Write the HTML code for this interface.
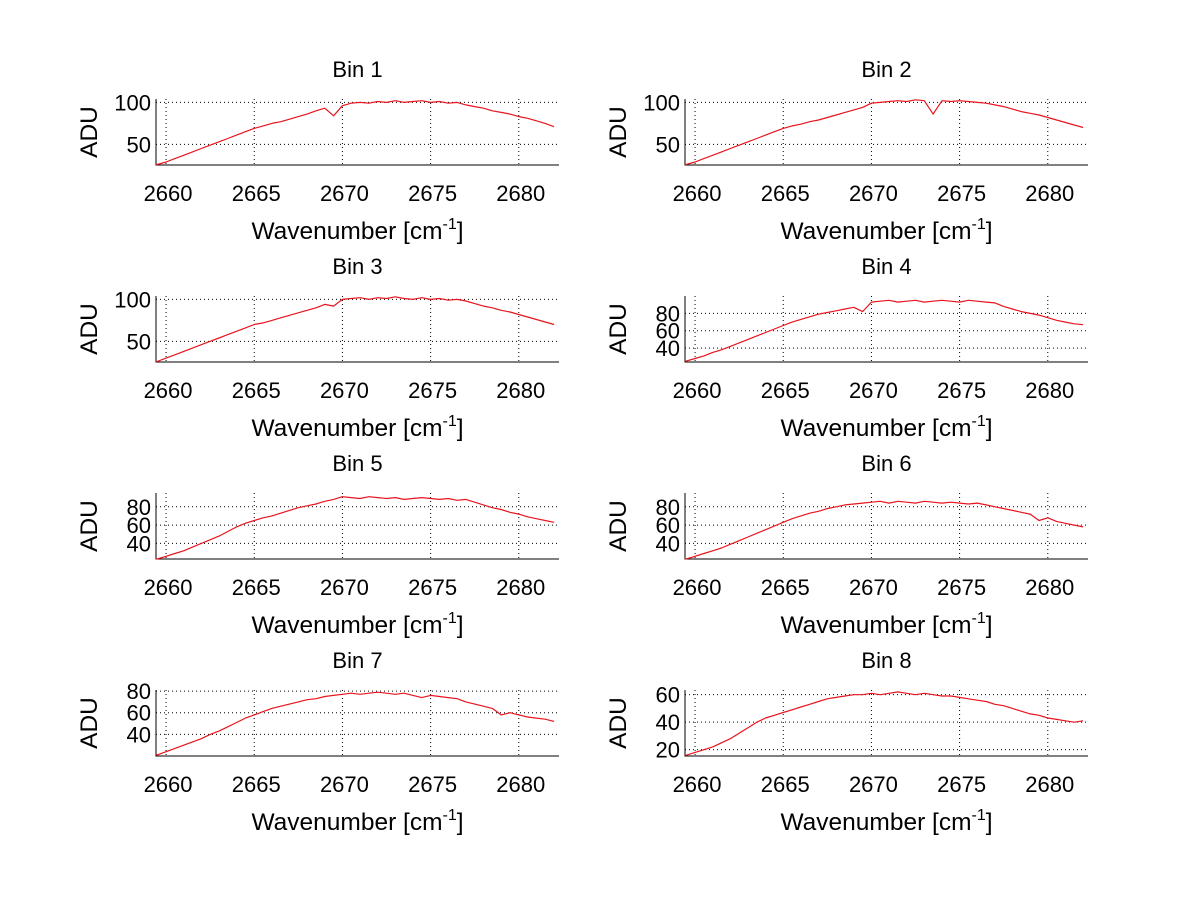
<!DOCTYPE html>
<html><head><meta charset="utf-8"><style>
html,body{margin:0;padding:0;background:#fff;}
svg{display:block;font-family:"Liberation Sans",sans-serif;}
</style></head><body>
<svg id="fig" width="1200" height="901" viewBox="0 0 1200 901" xmlns="http://www.w3.org/2000/svg">
<rect width="1200" height="901" fill="#fff"/>
</svg>
<script>
const xStart = 2659.5, xStep = 0.5;
const xTicks = [2660, 2665, 2670, 2675, 2680];
const xRange = [2659.43, 2682.28];
const binNames = ["Bin 1","Bin 2","Bin 3","Bin 4","Bin 5","Bin 6","Bin 7","Bin 8"];
const yRanges = [[25.4,104],[25.4,104],[25.4,104],[24,100],[23,95],[23,95],[20,81],[15.4,63.4]];
const yTicks = [[50,100],[50,100],[50,100],[40,60,80],[40,60,80],[40,60,80],[40,60,80],[20,40,60]];
const bin1 = [26,29,33,37,41,45,49,53,57,61,65,69,72,75,77,80,83,86,90,93,84,96,99,100,99,101,100,102,100,101,102,100,101,99,100,97,95,93,90,88,86,83,81,78,75,71];
const bin2 = [26,29,33,37,41,45,49,53,57,61,65,69,72,74,77,79,82,85,88,91,94,99,100,101,102,101,103,102,86,102,101,102,101,100,99,97,95,92,89,87,85,82,79,76,73,70];
const bin3 = [26,30,34,38,42,46,50,54,58,62,66,70,72,75,78,81,84,87,90,94,92,100,101,102,100,102,101,103,101,100,102,100,101,99,100,98,95,92,90,87,85,82,79,76,73,70];
const bin4 = [25,28,31,35,38,42,46,50,54,58,62,66,70,73,76,79,81,83,85,87,82,93,94,95,93,94,95,93,94,95,94,93,95,94,93,92,88,85,82,80,78,75,72,70,68,67];
const bin5 = [23,26,29,32,36,40,44,48,53,58,62,65,68,70,73,76,79,81,83,86,88,91,90,89,91,90,89,90,88,89,90,89,88,89,87,88,85,82,79,77,74,72,69,67,65,63];
const bin6 = [23,26,29,32,35,39,43,47,51,55,59,63,67,70,73,75,78,80,82,83,84,85,86,84,86,85,84,86,85,84,85,84,83,84,82,80,78,76,74,72,65,68,64,62,60,58];
const bin7 = [21,24,27,30,33,36,40,43,47,51,55,58,61,64,66,68,70,72,73,75,76,77,78,77,78,79,78,77,78,76,74,76,75,74,73,70,68,66,64,58,60,58,56,55,54,52];
const bin8 = [16,18,20,22,25,28,32,36,40,43,45,47,49,51,53,55,57,58,59,60,60,61,60,61,62,61,60,61,60,59,59,58,57,56,55,53,52,50,48,46,45,43,42,41,40,41];
const series = [bin1,bin2,bin3,bin4,bin5,bin6,bin7,bin8];

const NS = "http://www.w3.org/2000/svg";
const svg = document.getElementById("fig");
const colX = [156, 685], rowY = [99, 296, 493, 690], W = 403, H = 66;
function mk(tag, attrs, parent){const e=document.createElementNS(NS,tag);for(const k in attrs)e.setAttribute(k,attrs[k]);(parent||svg).appendChild(e);return e;}

for (let b = 0; b < 8; b++) {
  const x0 = colX[b % 2], y0 = rowY[Math.floor(b / 2)];
  const [ymin, ymax] = yRanges[b];
  const sx = v => x0 + (v - xRange[0]) / (xRange[1] - xRange[0]) * W;
  const sy = v => y0 + H - (v - ymin) / (ymax - ymin) * H;
  const g = mk("g", {});
  
  
  xTicks.forEach(t => {
    const l = mk("line", {x1: sx(t), x2: sx(t), y1: y0, y2: y0 + H, stroke: "#000", "stroke-width": 1, "stroke-dasharray": "1,3"}, g);
    
    
    const tl = mk("text", {x: sx(t) + 2, y: y0 + H + 36, "font-size": 22, "text-anchor": "middle"}, g);
    tl.textContent = t;
    
    
  });
  yTicks[b].forEach(t => {
    const l = mk("line", {x1: x0, x2: x0 + W, y1: sy(t), y2: sy(t), stroke: "#000", "stroke-width": 1, "stroke-dasharray": "1,3"}, g);
    
    
    const tl = mk("text", {x: x0 - 5, y: sy(t) + 8, "font-size": 22, "text-anchor": "end"}, g);
    tl.textContent = t;
    
    
  });
  const ax = mk("path", {d: `M${x0},${y0}V${y0+H}H${x0+W}`, fill: "none", stroke: "#000", "stroke-width": 1}, g);
  
  
  const d = series[b].map((v, i) => "L" + sx(xStart + i * xStep).toFixed(1) + "," + sy(v).toFixed(1)).join("");
  const ln = mk("path", {d: "M" + x0 + "," + sy(series[b][0]).toFixed(1) + d, fill: "none", stroke: "#e8141e", "stroke-width": 1.2, "stroke-linejoin": "round"}, g);
  
  
  const tt = mk("text", {x: x0 + W / 2, y: y0 - 22, "font-size": 22, "text-anchor": "middle"}, g);
  tt.textContent = binNames[b];
  
  
  const xl = mk("text", {x: x0 + W / 2, y: y0 + H + 74, "font-size": 24.5, "text-anchor": "middle"}, g);
  xl.innerHTML = 'Wavenumber [cm<tspan dy="-10" font-size="16">-1</tspan><tspan dy="10">]</tspan>';
  
  
  const yx = x0 - 59, yy = y0 + H / 2;
  const yl = mk("text", {x: yx, y: yy, "font-size": 24.5, "text-anchor": "middle", transform: `rotate(-90 ${yx} ${yy})`}, g);
  yl.textContent = "ADU";
  
  
}
</script>
</body></html>
